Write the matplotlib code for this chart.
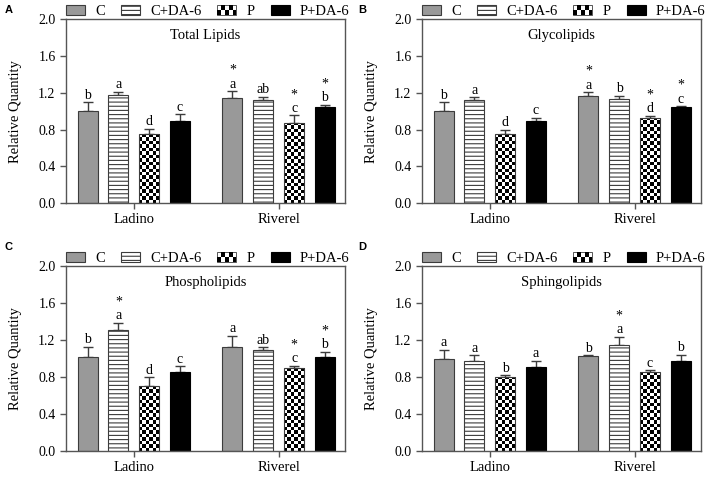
import matplotlib
matplotlib.use("Agg")
import matplotlib.pyplot as plt
import matplotlib.patches as patches
from matplotlib.legend_handler import HandlerBase
import numpy as np

plt.rcParams['font.family'] = ['Liberation Serif', 'DejaVu Serif']
plt.rcParams['hatch.linewidth'] = 0.8

groups = ['Ladino', 'Riverel']
treatments = ['C', 'C+DA-6', 'P', 'P+DA-6']

# order: Ladino C, C+DA-6, P, P+DA-6, Riverel C, C+DA-6, P, P+DA-6
total_mean = [1.00, 1.17, 0.747, 0.895, 1.148, 1.12, 0.874, 1.04]
total_err = [0.094, 0.043, 0.063, 0.069, 0.069, 0.035, 0.079, 0.029]
total_letters = ['b', 'a', 'd', 'c', 'a', 'ab', 'c', 'b']
total_stars = [0, 0, 0, 0, 1, 0, 1, 1]

glyco_mean = [1.00, 1.124, 0.75, 0.897, 1.168, 1.128, 0.93, 1.045]
glyco_err = [0.095, 0.029, 0.05, 0.033, 0.039, 0.04, 0.021, 0.011]
glyco_letters = ['b', 'a', 'd', 'c', 'a', 'b', 'd', 'c']
glyco_stars = [0, 0, 0, 0, 1, 0, 1, 1]

phospho_mean = [1.014, 1.31, 0.698, 0.853, 1.13, 1.09, 0.896, 1.018]
phospho_err = [0.116, 0.075, 0.097, 0.064, 0.118, 0.032, 0.025, 0.058]
phospho_letters = ['b', 'a', 'd', 'c', 'a', 'ab', 'c', 'b']
phospho_stars = [0, 1, 0, 0, 0, 0, 1, 1]

sphingo_mean = [0.996, 0.975, 0.802, 0.91, 1.022, 1.151, 0.853, 0.975]
sphingo_err = [0.098, 0.061, 0.018, 0.065, 0.014, 0.086, 0.021, 0.065]
sphingo_letters = ['a', 'a', 'b', 'a', 'b', 'a', 'c', 'b']
sphingo_stars = [0, 0, 0, 0, 0, 1, 0, 0]

edge = '#3c3c3c'
frame = '#555555'
gray = '#999999'


class CheckerHandler(HandlerBase):
    def create_artists(self, legend, orig_handle, xdescent, ydescent,
                       width, height, fontsize, trans):
        nx, ny = 5, 2
        w, h = width / nx, height / ny
        arts = [patches.Rectangle((-xdescent, -ydescent), width, height,
                                  facecolor='white', edgecolor=edge, lw=0.6, transform=trans)]
        for i in range(nx):
            for j in range(ny):
                if (i + j) % 2 == 0:
                    arts.append(patches.Rectangle((-xdescent + i * w, -ydescent + j * h), w, h,
                                                  facecolor='black', edgecolor='none',
                                                  transform=trans))
        return arts


def draw_panel(ax, title, means, errs, letters, stars):
    pos = np.array([-1.5, -0.5, 0.5, 1.5, 3.2, 4.2, 5.2, 6.2])
    bw = 0.65
    handles = []
    for k in range(8):
        t = k % 4
        x, m, e = pos[k], means[k], errs[k]
        if t == 0:
            b = ax.bar(x, m, bw, color=gray, edgecolor=edge, lw=0.8, zorder=2)
        elif t == 1:
            b = ax.bar(x, m, bw, color='white', edgecolor=edge, hatch='----', lw=0.8, zorder=2)
        elif t == 2:
            b = ax.bar(x, m, bw, color='none', edgecolor=edge, lw=0.8, zorder=3)
            ny = max(1, int(round(m / 0.037)))
            arr = np.indices((ny, 6)).sum(axis=0) % 2
            im = ax.imshow(arr, extent=[x - bw / 2, x + bw / 2, 0, m], cmap='gray',
                           interpolation='nearest', aspect='auto', zorder=2.5, origin='lower')
            im.set_clip_path(b.patches[0])
        else:
            b = ax.bar(x, m, bw, color='black', edgecolor='black', lw=0.8, zorder=2)
        if k < 4:
            handles.append(b)
        ax.errorbar(x, m, yerr=[[0], [e]], fmt='none', ecolor=edge, elinewidth=1,
                    capsize=3.5, capthick=1, zorder=1)
        ax.annotate(letters[k], (x, m + e), xytext=(0, 2.5), textcoords='offset points',
                    ha='center', va='baseline', fontsize=10)
        if stars[k]:
            ax.annotate('*', (x, m + e), xytext=(0, 12.5), textcoords='offset points',
                        ha='center', va='baseline', fontsize=10)

    ax.set_xlim(-2.2, 6.85)
    ax.set_ylim(0, 2.0)
    ax.set_yticks(np.arange(0, 2.01, 0.4))
    ax.set_yticklabels(['%.1f' % v for v in np.arange(0, 2.01, 0.4)])
    ax.set_xticks([0, 4.7])
    ax.set_xticklabels(groups)
    ax.tick_params(axis='both', direction='out', color=frame, labelsize=10, length=4, width=1)
    ax.tick_params(axis='x', labelsize=10.5, pad=3)
    for s in ax.spines.values():
        s.set_color(frame)
        s.set_linewidth(1)
    ax.set_ylabel('Relative Quantity', fontsize=10.5, labelpad=12)
    ax.text(0.5, 0.91, title, transform=ax.transAxes, ha='center', va='center', fontsize=10.5)

    leg_handles = [handles[0], handles[1], patches.Rectangle((0, 0), 1, 1), handles[3]]
    ax.legend(leg_handles, treatments, loc='lower left', bbox_to_anchor=(0, 1.005),
              ncol=4, frameon=False, fontsize=10.5, handlelength=1.3,
              handleheight=0.75, handletextpad=0.7, columnspacing=1.1,
              borderaxespad=0, borderpad=0,
              handler_map={leg_handles[2]: CheckerHandler()})


fig = plt.figure(figsize=(7.08, 4.79), dpi=100)
axA = fig.add_axes([0.0932, 0.576, 0.394, 0.384])
axB = fig.add_axes([0.596, 0.576, 0.394, 0.384])
axC = fig.add_axes([0.0932, 0.0585, 0.394, 0.386])
axD = fig.add_axes([0.596, 0.0585, 0.394, 0.386])

draw_panel(axA, 'Total Lipids', total_mean, total_err, total_letters, total_stars)
draw_panel(axB, 'Glycolipids', glyco_mean, glyco_err, glyco_letters, glyco_stars)
draw_panel(axC, 'Phospholipids', phospho_mean, phospho_err, phospho_letters, phospho_stars)
draw_panel(axD, 'Sphingolipids', sphingo_mean, sphingo_err, sphingo_letters, sphingo_stars)

for lab, (x, y) in zip('ABCD', [(0.006, 0.99), (0.506, 0.99), (0.006, 0.495), (0.506, 0.495)]):
    fig.text(x, y, lab, fontsize=8, fontweight='bold', family='Liberation Sans', va='top')

fig.savefig('out.png', dpi=100)
